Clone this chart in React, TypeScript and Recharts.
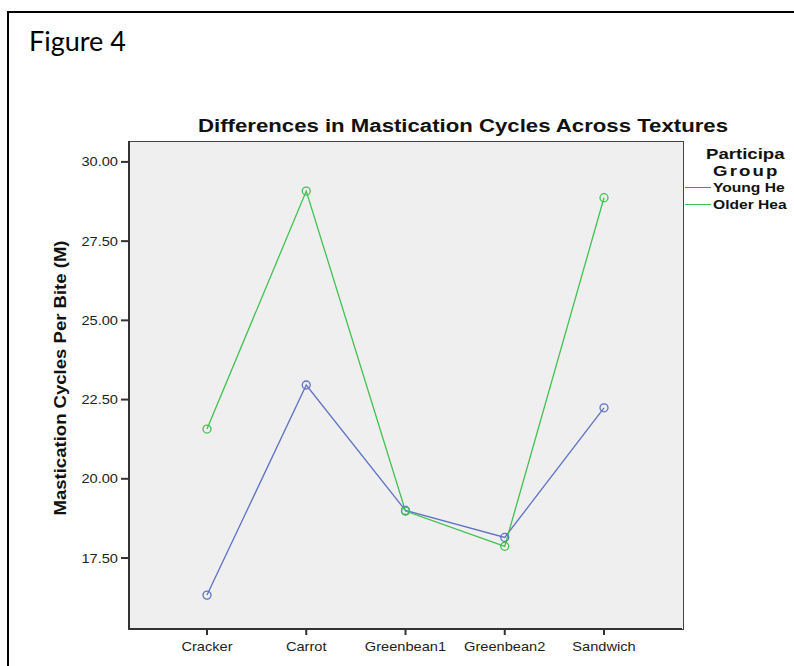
import { Line, LineChart, XAxis, YAxis } from "recharts";

const textures = ["Cracker", "Carrot", "Greenbean1", "Greenbean2", "Sandwich"];
const youngHealthy = [16.33, 22.96, 19.0, 18.15, 22.24];
const olderHealthy = [21.57, 29.08, 18.98, 17.87, 28.87];
const yTicks = [17.5, 20, 22.5, 25, 27.5, 30];
// legend text as it shows in the figure (cut off by the page edge in the source)
const legendTitle = ["Participa", "Group"];
const legendNames = ["Young He", "Older Hea"];

const seriesColors = { young: "#5d72c4", older: "#3fc24f" };

const data = textures.map((texture, i) => ({
  texture,
  young: youngHealthy[i],
  older: olderHealthy[i],
}));

const font = "'Liberation Sans', Arial, sans-serif";
const stretch = 1.17; // the original SPSS export is a bit wider than tall

function XTick({ x, y, payload }: any) {
  return (
    <text transform={`translate(${x},${y + 14}) scale(${stretch},1)`} textAnchor="middle" fontFamily={font} fontSize={12.5} fill="#222">
      {payload.value}
    </text>
  );
}

function YTick({ x, y, payload }: any) {
  return (
    <text transform={`translate(${x - 1},${y + 4.5}) scale(${stretch},1)`} textAnchor="end" fontFamily={font} fontSize={12.5} fill="#222">
      {Number(payload.value).toFixed(2)}
    </text>
  );
}

function LegendBox() {
  const colors = [seriesColors.young, seriesColors.older];
  return (
    <div style={{ position: "absolute", left: 685, top: 145, fontFamily: font, fontWeight: "bold", color: "#111", whiteSpace: "nowrap" }}>
      <div style={{ fontSize: 15.5, lineHeight: "17px", marginLeft: 21, transform: "scale(1.2,1)", transformOrigin: "left" }}>{legendTitle[0]}</div>
      <div style={{ fontSize: 15.5, lineHeight: "17px", marginLeft: 28, letterSpacing: 1.8, transform: "scale(1.2,1)", transformOrigin: "left" }}>{legendTitle[1]}</div>
      {legendNames.map((name, i) => (
        <div key={name} style={{ display: "flex", alignItems: "center", height: 17, fontSize: 13 }}>
          <span style={{ display: "inline-block", width: 26, height: 0, borderTop: `1.5px solid ${colors[i]}`, marginRight: 2 }} />
          <span style={{ display: "inline-block", transform: "scale(1.2,1)", transformOrigin: "left" }}>{name}</span>
        </div>
      ))}
    </div>
  );
}

export default function App() {
  return (
    <div style={{ position: "fixed", left: 0, top: 0, width: 794, height: 666, overflow: "hidden", background: "#fff" }}>
      <div style={{ position: "absolute", left: 7, top: 11, width: 900, height: 700, borderLeft: "2px solid #000", borderTop: "2px solid #000" }} />
      <div style={{ position: "absolute", left: 29, top: 24, fontFamily: "Lato, 'Open Sans', sans-serif", fontSize: 27, color: "#000" }}>
        Figure 4
      </div>
      <div style={{ position: "absolute", left: 128, top: 141, width: 554, height: 487, background: "#efefef", border: "1px solid #444" }} />
      <div style={{ position: "absolute", left: 0, top: 0 }}>
        <LineChart width={794} height={666} data={data} margin={{ top: 141, right: 112, left: 69, bottom: 7 }}>
          <text x={463} y={132} textAnchor="middle" textLength={530} lengthAdjust="spacingAndGlyphs" fontFamily={font} fontWeight="bold" fontSize={18} fill="#111">
            Differences in Mastication Cycles Across Textures
          </text>
          <text
            transform="translate(66,378) rotate(-90)"
            textAnchor="middle"
            textLength={275}
            lengthAdjust="spacingAndGlyphs"
            fontFamily={font}
            fontWeight="bold"
            fontSize={16}
            fill="#111"
          >
            Mastication Cycles Per Bite (M)
          </text>
          <XAxis
            dataKey="texture"
            padding={{ left: 78, right: 78 }}
            height={30}
            tickSize={6}
            tick={<XTick />}
            axisLine={{ stroke: "#333", strokeWidth: 2 }}
            tickLine={{ stroke: "#333", strokeWidth: 2 }}
          />
          <YAxis
            type="number"
            domain={[15.26, 30.66]}
            allowDataOverflow
            ticks={yTicks}
            width={60}
            tickSize={8}
            tick={<YTick />}
            axisLine={{ stroke: "#333", strokeWidth: 2 }}
            tickLine={{ stroke: "#333", strokeWidth: 2 }}
          />
          <Line
            dataKey="young"
            name="Young Healthy"
            stroke={seriesColors.young}
            strokeWidth={1.3}
            dot={{ r: 4, stroke: seriesColors.young, strokeWidth: 1.3, fill: "none" }}
            isAnimationActive={false}
          />
          <Line
            dataKey="older"
            name="Older Healthy"
            stroke={seriesColors.older}
            strokeWidth={1.3}
            dot={{ r: 4, stroke: seriesColors.older, strokeWidth: 1.3, fill: "none" }}
            isAnimationActive={false}
          />
        </LineChart>
      </div>
      <LegendBox />
    </div>
  );
}
